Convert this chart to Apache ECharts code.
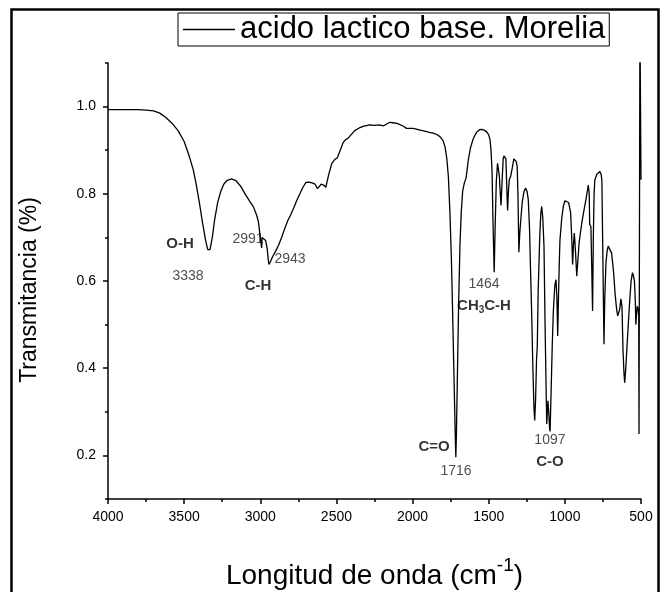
<!DOCTYPE html>
<html>
<head>
<meta charset="utf-8">
<script src="https://cdn.jsdelivr.net/npm/echarts@6/dist/echarts.min.js"></script>
<style>html,body{margin:0;padding:0;background:#fff}#c{width:664px;height:592px}</style>
</head>
<body>
<div id="c"></div>
<script>
var seriesName = 'acido lactico base. Morelia';
var wavenumber = [4000,3900,3800,3750,3700,3660,3620,3580,3540,3500,3470,3440,3420,3400,3380,3360,3345,3338,3330,3315,3300,3280,3260,3240,3220,3190,3160,3130,3100,3070,3045,3025,3013,3005,3000,2993,2991,2988,2980,2965,2955,2948,2943,2935,2920,2900,2880,2860,2840,2820,2800,2780,2760,2740,2720,2700,2680,2660,2640,2625,2615,2600,2585,2570,2550,2530,2510,2495,2475,2455,2440,2425,2400,2380,2350,2320,2280,2250,2220,2190,2170,2150,2130,2110,2090,2060,2040,2028,2010,1995,1970,1950,1920,1890,1864,1840,1820,1800,1787,1775,1765,1755,1745,1737,1728,1720,1716,1712,1706,1698,1689,1680,1671,1660,1649,1640,1634,1620,1601,1580,1560,1546,1530,1513,1500,1491,1484,1478,1472,1464,1458,1450,1442,1437,1430,1424,1419,1412,1405,1400,1392,1387,1380,1376,1370,1365,1356,1345,1335,1328,1320,1313,1308,1302,1296,1291,1280,1268,1258,1248,1240,1232,1225,1218,1210,1203,1198,1192,1186,1181,1175,1165,1158,1152,1145,1137,1130,1122,1119,1115,1111,1106,1100,1097,1090,1083,1076,1066,1058,1052,1047,1042,1036,1032,1020,1010,1000,988,975,962,955,949,944,938,934,931,926,922,915,907,901,888,874,860,846,840,837,833,829,824,818,813,808,803,790,770,762,757,752,747,743,738,730,722,715,705,693,680,670,660,653,647,640,632,628,625,618,612,607,600,592,584,575,565,556,550,543,537,534,530,525,518,515,513,507,502,500];
var transmitancia = [0.993,0.993,0.993,0.992,0.990,0.985,0.975,0.962,0.945,0.920,0.890,0.855,0.820,0.780,0.735,0.695,0.672,0.668,0.672,0.700,0.740,0.780,0.805,0.822,0.830,0.834,0.830,0.818,0.800,0.783,0.770,0.752,0.737,0.715,0.700,0.700,0.676,0.700,0.700,0.693,0.675,0.650,0.638,0.643,0.655,0.668,0.682,0.700,0.720,0.738,0.752,0.768,0.785,0.800,0.815,0.826,0.827,0.825,0.822,0.812,0.810,0.822,0.820,0.815,0.845,0.870,0.879,0.882,0.900,0.918,0.924,0.927,0.937,0.945,0.951,0.955,0.958,0.957,0.958,0.956,0.960,0.964,0.963,0.962,0.960,0.955,0.950,0.946,0.950,0.950,0.948,0.946,0.944,0.941,0.939,0.936,0.931,0.922,0.908,0.880,0.840,0.760,0.650,0.527,0.380,0.250,0.196,0.250,0.375,0.540,0.680,0.760,0.806,0.825,0.836,0.860,0.878,0.905,0.927,0.941,0.947,0.948,0.946,0.942,0.935,0.923,0.895,0.850,0.740,0.620,0.720,0.830,0.870,0.872,0.840,0.800,0.773,0.830,0.880,0.887,0.887,0.880,0.800,0.762,0.810,0.832,0.840,0.860,0.880,0.884,0.875,0.862,0.800,0.666,0.710,0.733,0.780,0.806,0.813,0.805,0.786,0.720,0.620,0.527,0.400,0.310,0.280,0.330,0.420,0.451,0.580,0.700,0.755,0.771,0.745,0.680,0.500,0.330,0.272,0.300,0.325,0.300,0.262,0.255,0.350,0.450,0.527,0.590,0.603,0.560,0.474,0.560,0.650,0.695,0.745,0.771,0.784,0.788,0.780,0.756,0.700,0.638,0.680,0.710,0.690,0.672,0.640,0.611,0.645,0.685,0.702,0.735,0.763,0.790,0.820,0.800,0.730,0.728,0.725,0.640,0.531,0.700,0.800,0.832,0.845,0.851,0.845,0.832,0.700,0.560,0.455,0.560,0.642,0.670,0.680,0.676,0.664,0.620,0.570,0.535,0.520,0.516,0.535,0.559,0.555,0.542,0.440,0.390,0.367,0.400,0.450,0.497,0.550,0.600,0.619,0.612,0.600,0.550,0.500,0.520,0.542,0.535,0.520,0.249,1.200,1.200,0.832];

var xTickLabels = [4000,3500,3000,2500,2000,1500,1000,500];
var yTickLabels = [0.2,0.4,0.6,0.8,1.0];
var yMinorTicks = [0.1,0.3,0.5,0.7,0.9,1.1];

var annText = ['O-H','3338','2991','2943','C-H','1464','{b|CH}{s|3}{b|C-H}','C=O','1716','1097','C-O'];
var annX    = [3527,3475,3081,2805,3015,1531,1531,1859,1715,1098,1098];
var annY    = [0.686,0.610,0.695,0.649,0.590,0.592,0.544,0.220,0.165,0.235,0.185];
var annBold = [true,false,false,false,true,false,true,true,false,false,true];

var lineData = wavenumber.map(function(w,i){return [w, transmitancia[i]];});
var annData = annText.map(function(t,i){return {value:[annX[i],annY[i]], name:t, bold:annBold[i]};});

var FONT = '"Liberation Sans", Arial, sans-serif';
var chart = echarts.init(document.getElementById('c'), null, {renderer:'canvas'});
chart.setOption({
  animation:false,
  backgroundColor:'#fff',
  grid:{left:108, right:23, top:63, bottom:93, containLabel:false, outerBoundsMode:'none'},
  legend:{
    data:[seriesName], left:178, top:13, selectedMode:false,
    borderColor:'#000', borderWidth:1, padding:[1,4,1,5],
    icon:'rect', itemWidth:52, itemHeight:1.3, itemGap:4,
    itemStyle:{color:'#000'},
    textStyle:{fontFamily:FONT, fontSize:31, color:'#000', padding:[0,0,0,0]}
  },
  xAxis:{
    type:'value', inverse:true, min:500, max:4000, interval:500,
    axisLine:{lineStyle:{color:'#000', width:1.5}},
    axisTick:{show:true, length:5, customValues:xTickLabels, lineStyle:{color:'#000', width:1.5}},
    minorTick:{show:true, splitNumber:2, length:3, lineStyle:{color:'#000', width:1.5}},
    splitLine:{show:false},
    axisLabel:{fontFamily:FONT, fontSize:14, color:'#000', margin:11, customValues:xTickLabels,
      formatter:function(v){return String(v);}},
    name:'{a|Longitud de onda (cm}{s|-1}{a|)}', nameLocation:'middle', nameGap:57,
    nameTextStyle:{rich:{
      a:{fontFamily:FONT, fontSize:28, color:'#000', verticalAlign:'bottom', lineHeight:34},
      s:{fontFamily:FONT, fontSize:19, color:'#000', verticalAlign:'top', lineHeight:34, padding:[0,0,16,0]}
    }}
  },
  yAxis:[{
    type:'value', min:0.1, max:1.1,
    axisLine:{show:true, lineStyle:{color:'#000', width:1.5}},
    axisTick:{show:true, length:5, customValues:yTickLabels, lineStyle:{color:'#000', width:1.5}},
    splitLine:{show:false},
    axisLabel:{fontFamily:FONT, fontSize:14, color:'#000', margin:12, customValues:yTickLabels,
      formatter:function(v){return v.toFixed(1);}},
    name:'Transmitancia (%)', nameLocation:'middle', nameGap:67,
    nameTextStyle:{fontFamily:FONT, fontSize:23, color:'#000', padding:[0,18,0,0]}
  },{
    type:'value', min:0.1, max:1.1, position:'left',
    axisLine:{show:false},
    axisTick:{show:true, length:3, customValues:yMinorTicks, lineStyle:{color:'#000', width:1.5}},
    axisLabel:{show:false}, splitLine:{show:false}
  }],
  series:[{
    name:seriesName, type:'line', data:lineData, symbol:'none', showSymbol:false,
    lineStyle:{color:'#000', width:1.3}, itemStyle:{color:'#000'}, clip:true
  },{
    type:'scatter', data:annData, symbolSize:0, silent:true,
    label:{show:true, position:'inside', color:'#222',
      formatter:function(p){return p.data.bold ? (p.name.indexOf('{')===0 ? p.name : '{b|'+p.name+'}') : '{n|'+p.name+'}';},
      rich:{
        b:{fontFamily:FONT, fontSize:15, fontWeight:'bold', color:'#000'},
        n:{fontFamily:FONT, fontSize:14, color:'#222'},
        s:{fontFamily:FONT, fontSize:10, fontWeight:'bold', color:'#000', verticalAlign:'bottom', padding:[10,0,0,0]}
      }
    }
  }],
  graphic:[{
    type:'rect', left:9, top:7, silent:true,
    shape:{width:647, height:600},
    style:{fill:null, stroke:'#000', lineWidth:2.5}
  }]
});
</script>
</body>
</html>
